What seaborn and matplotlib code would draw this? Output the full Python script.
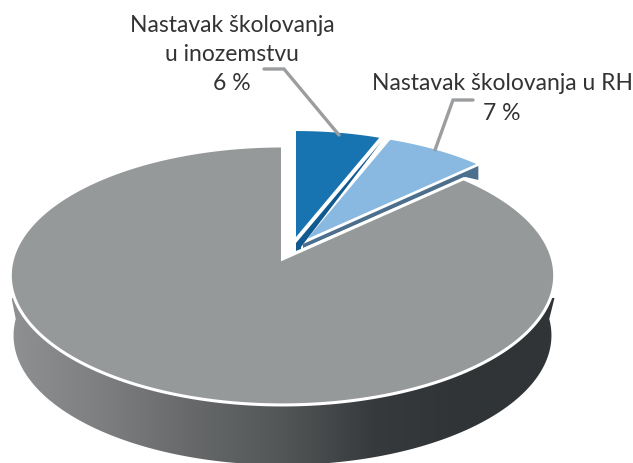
import numpy as np
import matplotlib
matplotlib.use('Agg')
import matplotlib.pyplot as plt
from matplotlib.patches import Polygon
import seaborn as sns

categories = ['Nastavak školovanja\nu inozemstvu', 'Nastavak školovanja u RH', '']
values = [6, 7, 87]
value_labels = ['6 %', '7 %', '']
slice_colors = ['#1873b1', '#89b9e0', '#96999a']

# layout, all in image pixels
APEX = np.array([282.5, 259.0])
PERSP = 0.127
SCALE_X, SCALE_Y = 270.0, 127.4
WALL_DROP = 60
SLICE_SHIFT = [(13.5, -22), (24.5, -20), (0, 0)]
SLICE_R = [0.93, 0.93, 1.0]
wall_colors = ['#8e9091', '#7c7e7f', '#666869', '#535657', '#363a3c', '#303436', '#303436']


def project(u, v, r=1.0, shift=(0, 0)):
    # squashes the unit disc of the pie into the tilted ellipse of the picture
    u, v = np.asarray(u) * r, np.asarray(v) * r
    d = 1 + PERSP * v
    return np.column_stack([APEX[0] + shift[0] + SCALE_X * u / d,
                            APEX[1] + shift[1] - SCALE_Y * v / d])


sns.set_theme(style='white')
plt.rcParams['font.family'] = ['Lato', 'DejaVu Sans']

fig = plt.figure(figsize=(6.33, 4.63), dpi=100)
ax = fig.add_axes([0, 0, 1, 1])

wedges, _ = ax.pie(values, colors=slice_colors, startangle=90, counterclock=False)
shapes = []
edges = []
for w in wedges:
    # sample the arc of each wedge, the curve flattening of the path is too coarse
    th = np.radians(np.linspace(w.theta1, w.theta2, 400))
    shapes.append(np.vstack([[0, 0], np.column_stack([np.cos(th), np.sin(th)])]))
    edges.append(np.radians(w.theta1))
    w.remove()

ax.set_aspect('auto')
ax.set_xlim(0, 633)
ax.set_ylim(463, 0)
ax.axis('off')

# side wall with the horizontal shading
t = np.linspace(np.pi, 2 * np.pi, 300)
low = project(np.cos(t), np.sin(t))
low[:, 0] = APEX[0] + (low[:, 0] - APEX[0]) * 0.988
low[:, 1] += WALL_DROP
wall = np.vstack([[APEX[0] - 271, 298], low, [APEX[0] + 272, 298]])
wall_patch = Polygon(wall, closed=True, facecolor='none', edgecolor='none', transform=ax.transData)
ax.add_patch(wall_patch)
cmap = sns.blend_palette(wall_colors, as_cmap=True)
grad = np.linspace(0, 1, 256).reshape(1, -1)
im = ax.imshow(grad, cmap=cmap, extent=(12, 555, 463, 280), aspect='auto', zorder=1)
im.set_clip_path(wall_patch)
ax.set_xlim(0, 633)
ax.set_ylim(463, 0)

# thin side strips of the two pulled out slices
for i, (darker, a) in enumerate(zip(['#115a90', '#4c6f8e'], edges[:2])):
    s = np.array(SLICE_SHIFT[i])
    apex = APEX + s
    end = project(np.cos(a), np.sin(a), SLICE_R[i], s)[0]
    if i == 0:
        pts = [apex + (0, 6), end + (2, 4), apex + (5, 10), apex + (5, 12), apex + (0, 14)]
    else:
        pts = [apex + (-4, 5), end + (2, 2), end + (2, 16), end + (-11, 13), apex + (-4, 9)]
    ax.add_patch(Polygon(pts, closed=True, facecolor=darker, edgecolor='none', zorder=2))

# the slices themselves
for i, poly in enumerate(shapes):
    pts = project(poly[:, 0], poly[:, 1], SLICE_R[i], SLICE_SHIFT[i])
    ax.add_patch(Polygon(pts, closed=True, facecolor=slice_colors[i],
                         edgecolor='white' if i == 2 else 'none', linewidth=2.2, zorder=3))

# leader lines and labels
ax.plot([264, 284, 339], [69, 69, 135], color='#9b9d9f', lw=2.4, zorder=4, solid_joinstyle='miter')
ax.plot([473, 453, 435], [100, 100, 150], color='#9b9d9f', lw=2.4, zorder=4, solid_joinstyle='miter')

ax.text(232, 40, categories[0], ha='center', va='center', fontsize=16.5, color='#333333',
        linespacing=1.42, zorder=5)
ax.text(232, 84, value_labels[0], ha='center', va='center', fontsize=16.5, color='#333333', zorder=5)
ax.text(502, 83, categories[1], ha='center', va='center', fontsize=16.5, color='#333333', zorder=5)
ax.text(502, 113, value_labels[1], ha='center', va='center', fontsize=16.5, color='#333333', zorder=5)

fig.savefig('out.png', dpi=100)
